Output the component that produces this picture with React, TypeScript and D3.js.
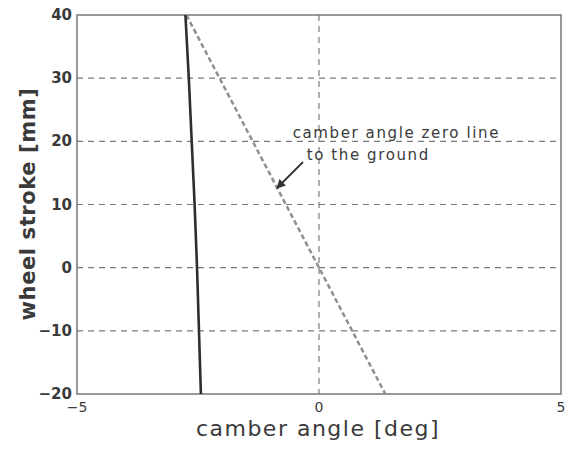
import React from "react";
import * as d3 from "d3";

const strokeValues = [40, 30, 20, 10, 0, -10, -20];
const camberActual = [-2.76, -2.69, -2.63, -2.57, -2.52, -2.48, -2.44];
const zeroLineStroke = [40, -20];
const zeroLineCamber = [-2.74, 1.37];
const xTicks = [-5, 0, 5];
const yTicks = [-20, -10, 0, 10, 20, 30, 40];

export default function App() {
  const W = 570, H = 450;
  const m = { left: 77, right: 561, top: 15, bottom: 394 };
  const x = d3.scaleLinear().domain([-5, 5]).range([m.left, m.right]);
  const y = d3.scaleLinear().domain([-20, 40]).range([m.bottom, m.top]);
  const line = d3.line<[number, number]>().x(d => x(d[0])).y(d => y(d[1]));
  const actual = strokeValues.map((s, i) => [camberActual[i], s] as [number, number]);
  const zero = zeroLineStroke.map((s, i) => [zeroLineCamber[i], s] as [number, number]);
  const txt = "#3a3a3a";
  return (
    <svg width={W} height={H} style={{ position: "absolute", left: 0, top: 0, background: "#fff" }}>
      <defs>
        <marker id="ah" viewBox="0 0 10 10" refX="9" refY="5" markerWidth="9" markerHeight="9" orient="auto" markerUnits="userSpaceOnUse">
          <path d="M0,0 L10,5 L0,10 z" fill="#333" />
        </marker>
      </defs>
      {yTicks.filter(t => t !== -20 && t !== 40).map(t => (
        <line key={"gy" + t} x1={m.left} x2={m.right} y1={y(t)} y2={y(t)} stroke="#7a7a7a" strokeWidth={1.2} strokeDasharray="6,5" />
      ))}
      {xTicks.filter(t => t === 0).map(t => (
        <line key={"gx" + t} x1={x(t)} x2={x(t)} y1={m.top} y2={m.bottom} stroke="#7a7a7a" strokeWidth={1.2} strokeDasharray="6,5" />
      ))}
      <rect x={m.left} y={m.top} width={m.right - m.left} height={m.bottom - m.top} fill="none" stroke="#777" strokeWidth={1.5} />
      <path d={line(zero) || ""} fill="none" stroke="#8f8f8f" strokeWidth={2.5} strokeDasharray="5,3" />
      <path d={line(actual) || ""} fill="none" stroke="#2e2e2e" strokeWidth={2.6} />
      {yTicks.map(t => (
        <text key={"ty" + t} x={m.left - 5} y={y(t) + 5} textAnchor="end" fontFamily="DejaVu Sans" fontSize={15} fontWeight="bold" fill={txt}>
          {t < 0 ? "\u2212" + Math.abs(t) : t}
        </text>
      ))}
      {xTicks.map(t => (
        <text key={"tx" + t} x={x(t)} y={m.bottom + 18} textAnchor="middle" fontFamily="DejaVu Sans" fontSize={14} fill={txt}>
          {t < 0 ? "\u2212" + Math.abs(t) : t}
        </text>
      ))}
      <text x={318} y={436} textAnchor="middle" fontFamily="DejaVu Sans" fontSize={22} letterSpacing={1.5} fill={txt}>
        camber angle [deg]
      </text>
      <text transform={`translate(35,${204}) rotate(-90)`} textAnchor="middle" fontFamily="DejaVu Sans" fontSize={21} fontWeight="bold" letterSpacing={0.6} fill={txt}>
        wheel stroke [mm]
      </text>
      <text x={292.7} y={138} fontFamily="DejaVu Sans" fontSize={15} letterSpacing={1.6} fill={txt}>
        camber angle zero line
      </text>
      <text x={306.7} y={160} fontFamily="DejaVu Sans" fontSize={15} letterSpacing={1.6} fill={txt}>
        to the ground
      </text>
      <line x1={303} y1={162} x2={277} y2={188} stroke="#333" strokeWidth={1.8} markerEnd="url(#ah)" />
    </svg>
  );
}
